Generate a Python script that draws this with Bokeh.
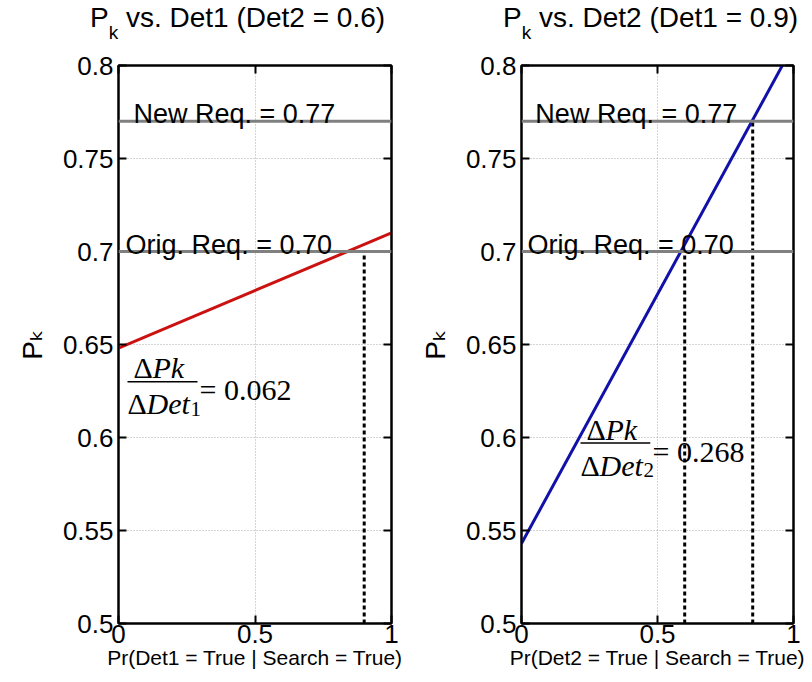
import math
from bokeh.plotting import figure
from bokeh.models import (Range1d, FixedTicker, LinearAxis, Span, Label, Div,
                          CustomJSTickFormatter, ColumnDataSource)
from bokeh.layouts import row, column
from bokeh.embed import file_html
from bokeh.resources import INLINE

# ---------------- data ----------------
det_grid = [0.0, 1.0]
pk_vs_det1 = [0.648, 0.710]          # Det2 = 0.6
pk_vs_det2 = [0.543, 0.811]          # Det1 = 0.9
req_levels = [0.70, 0.77]
req_texts = ["Orig. Req. = 0.70", "New Req. = 0.77"]
det1_cross_x = [0.9]
det1_cross_y = [0.70]
det2_cross_x = [0.6, 0.85]
det2_cross_y = [0.70, 0.77]
slope_texts = ["0.062", "0.268"]
x_ticks = [0.0, 0.5, 1.0]
x_tick_labels = ["0", "0.5", "1"]
y_ticks = [0.5, 0.55, 0.6, 0.65, 0.7, 0.75, 0.8]
y_tick_labels = ["0.5", "0.55", "0.6", "0.65", "0.7", "0.75", "0.8"]
title_rest = [" vs. Det1 (Det2 = 0.6)", " vs. Det2 (Det1 = 0.9)"]
y_label = "P\u2096"
x_labels = ["Pr(Det1 = True | Search = True)", "Pr(Det2 = True | Search = True)"]
det_sub = ["1", "2"]

# ---------------- layout / style ----------------
FRAME_W = 273
FRAME_H = 558
TITLE_H = 44
FIG_H = 680 - TITLE_H
TOP = 65 - TITLE_H
X0, X1 = 0.0, 1.0
Y0, Y1 = 0.5, 0.8
SANS = "Liberation Sans, DejaVu Sans"
SERIF = "Liberation Serif"
DPX = (Y1 - Y0) / FRAME_H   # data units per pixel (y)
XPX = (X1 - X0) / FRAME_W   # data units per pixel (x)

# annotation anchors (data units)
req_text_x = [[0.026, 0.055], [0.022, 0.051]]
frac_anchor = [(0.033, 0.630), (0.217, 0.597)]


def lab(p, x, y, text, size, font=SERIF, style="normal", x_offset=0):
    p.add_layout(Label(x=x, y=y, text=text, text_font=font,
                       text_font_size=f"{size}px", text_font_style=style,
                       x_offset=x_offset, text_align="left",
                       text_baseline="alphabetic", text_color="black"))


def make_title(i, width, pad):
    html = ('<div style="font-family:\'Liberation Sans\',Arial,sans-serif;'
            'font-size:28px;color:black;text-align:center;'
            f'padding-left:{pad}px;padding-top:2px;line-height:32px;'
            'white-space:nowrap;">'
            'P<span style="font-size:19px;position:relative;top:12px;">k</span>'
            f'{title_rest[i]}</div>')
    return Div(text=html, width=width, height=TITLE_H, margin=0)


def make_panel(i, width, left, right, line_y, line_color, cross_x, cross_y):
    p = figure(width=width, height=FIG_H, x_range=Range1d(X0, X1),
               y_range=Range1d(Y0, Y1), output_backend="svg",
               toolbar_location=None, title=None,
               min_border_left=left, min_border_right=right,
               min_border_top=TOP, min_border_bottom=FIG_H - TOP - FRAME_H)
    p.background_fill_color = "white"
    p.border_fill_color = "white"
    p.outline_line_color = "black"
    p.outline_line_width = 2

    for ax in (p.xaxis[0], p.yaxis[0]):
        ax.axis_line_width = 2
        ax.major_tick_line_width = 2
        ax.major_tick_in = 8
        ax.major_tick_out = 0
        ax.minor_tick_line_color = None
        ax.major_label_text_font = SANS
        ax.major_label_text_font_size = "26px"
        ax.major_label_text_color = "black"
        ax.axis_label_text_font = SANS
        ax.axis_label_text_font_style = "normal"
        ax.axis_label_text_color = "black"
    p.xaxis[0].ticker = FixedTicker(ticks=x_ticks)
    p.xaxis[0].major_label_overrides = dict(zip(x_ticks, x_tick_labels))
    p.xaxis[0].major_label_standoff = 1
    p.xaxis[0].axis_label = x_labels[i]
    p.xaxis[0].axis_label_text_font_size = "21px"
    p.xaxis[0].axis_label_standoff = 0
    p.yaxis[0].ticker = FixedTicker(ticks=y_ticks)
    p.yaxis[0].major_label_overrides = dict(zip(y_ticks, y_tick_labels))
    p.yaxis[0].major_label_standoff = 5
    p.yaxis[0].axis_label = y_label
    p.yaxis[0].axis_label_text_font_size = "28px"
    p.yaxis[0].axis_label_standoff = 12

    blank = CustomJSTickFormatter(code="return ''")
    top = LinearAxis(ticker=FixedTicker(ticks=x_ticks), formatter=blank,
                     major_tick_in=8, major_tick_out=0, major_tick_line_width=2,
                     axis_line_width=2, minor_tick_line_color=None,
                     major_label_standoff=0, major_label_text_font_size="1px")
    rgt = LinearAxis(ticker=FixedTicker(ticks=y_ticks), formatter=blank,
                     major_tick_in=8, major_tick_out=0, major_tick_line_width=2,
                     axis_line_width=2, minor_tick_line_color=None,
                     major_label_standoff=0, major_label_text_font_size="1px")
    p.add_layout(top, "above")
    p.add_layout(rgt, "right")

    p.xgrid.ticker = FixedTicker(ticks=x_ticks)
    p.ygrid.ticker = FixedTicker(ticks=y_ticks)
    for g in (p.xgrid, p.ygrid):
        g.grid_line_color = "#a8a8a8"
        g.grid_line_dash = "1 2"
        g.grid_line_width = 1

    # requirement lines
    for lvl in req_levels:
        p.add_layout(Span(location=lvl, dimension="width",
                          line_color="#808080", line_width=3))

    # dashed drop lines
    src = ColumnDataSource(dict(x=cross_x, y0=[Y0] * len(cross_x), y1=cross_y))
    p.segment(x0="x", y0="y0", x1="x", y1="y1", source=src,
              line_color="black", line_width=3, line_dash="4 3")

    # main line
    p.line(det_grid, line_y, line_color=line_color, line_width=3)

    # requirement texts
    for k, (lvl, txt) in enumerate(zip(req_levels, req_texts)):
        lab(p, req_text_x[i][k], lvl + 7 * DPX, txt, 27, font=SANS)

    # slope fraction
    fx, fy = frac_anchor[i]
    bar_w = 70
    p.segment(x0=[fx], y0=[fy], x1=[fx + bar_w * XPX], y1=[fy],
              line_color="black", line_width=1.5)
    lab(p, fx, fy + 14 * DPX, "\u0394", 30, x_offset=6)
    lab(p, fx, fy + 14 * DPX, "Pk", 30, style="italic", x_offset=25)
    lab(p, fx, fy - 22 * DPX, "\u0394", 30)
    lab(p, fx, fy - 22 * DPX, "Det", 30, style="italic", x_offset=19)
    lab(p, fx, fy - 27 * DPX, det_sub[i], 21, x_offset=63)
    lab(p, fx, fy - 8 * DPX, "= " + slope_texts[i], 30, x_offset=bar_w + 2)
    return p


p1 = make_panel(0, 408, 118, 17, pk_vs_det1, "#cc1111", det1_cross_x, det1_cross_y)
p2 = make_panel(1, 397, 113, 12, pk_vs_det2, "#1111aa", det2_cross_x, det2_cross_y)
t1 = make_title(0, 408, 90)
t2 = make_title(1, 397, 95)

layout = row(column(t1, p1), column(t2, p2))
open("out.html", "w").write(file_html(layout, INLINE))
